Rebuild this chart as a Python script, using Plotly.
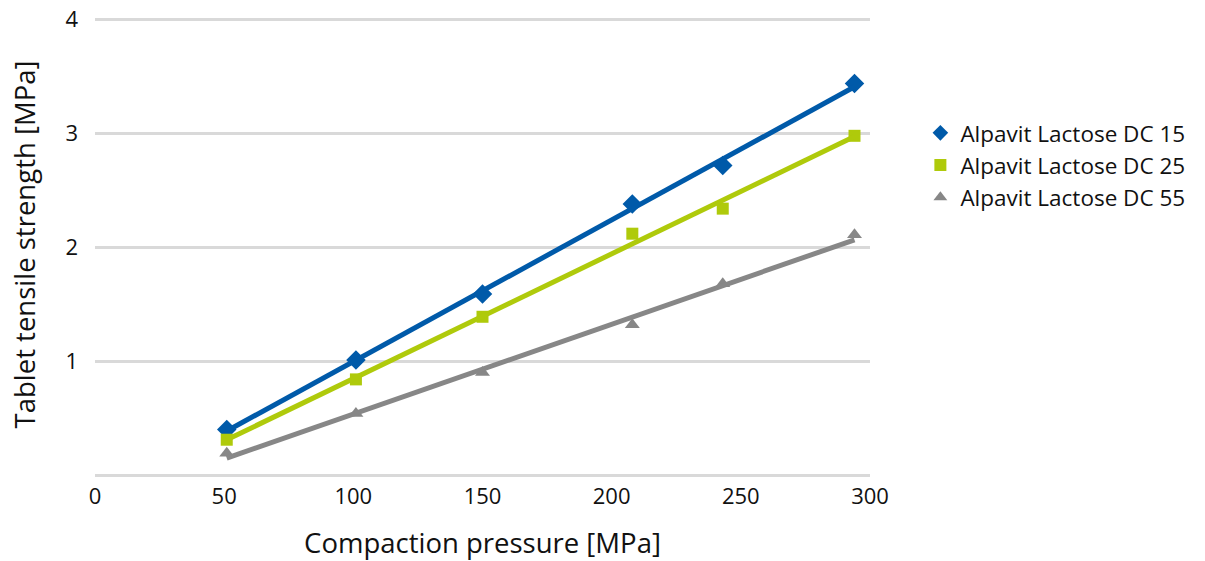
import numpy as np
import plotly.graph_objects as go

pressure = [51, 101, 150, 208, 243, 294]
dc15 = [0.40, 1.01, 1.59, 2.38, 2.72, 3.44]
dc25 = [0.31, 0.84, 1.39, 2.12, 2.34, 2.98]
dc55 = [0.19, 0.54, 0.90, 1.32, 1.68, 2.11]

series = [
    ("Alpavit Lactose DC 15", dc15, "#005aa9", "diamond", 15),
    ("Alpavit Lactose DC 25", dc25, "#afca0b", "square", 12),
    ("Alpavit Lactose DC 55", dc55, "#878787", "triangle-up", 13),
]

fig = go.Figure()
for name, ys, color, sym, size in series:
    fig.add_trace(go.Scatter(x=pressure, y=ys, mode="markers", name=name,
                             marker=dict(symbol=sym, color=color, size=size, line=dict(width=0))))
for name, ys, color, sym, size in series:
    k, d = np.polyfit(pressure, ys, 1)
    xs = [pressure[0], pressure[-1]]
    fig.add_trace(go.Scatter(x=xs, y=[k * x + d for x in xs], mode="lines", showlegend=False,
                             line=dict(color=color, width=5), hoverinfo="skip"))

fig.update_layout(
    width=1205, height=561,
    margin=dict(l=95, r=335, t=14, b=86),
    paper_bgcolor="white", plot_bgcolor="white",
    font=dict(family="Open Sans", color="#111111", size=22),
    xaxis=dict(range=[0, 300], tickvals=[0, 50, 100, 150, 200, 250, 300], showgrid=False,
               zeroline=False, showline=False, ticks="", automargin=False, ticklabelstandoff=6,
               title=dict(text="Compaction pressure [MPa]", font=dict(size=27.5), standoff=34)),
    yaxis=dict(range=[0, 4.05], tickvals=[1, 2, 3, 4], showgrid=True, gridcolor="#d9d9d9", gridwidth=2.5,
               zeroline=True, zerolinecolor="#d9d9d9", zerolinewidth=2.5, showline=False, ticks="",
               automargin=False, ticklabelstandoff=16, ticklabeloverflow="allow",
               title=dict(text="Tablet tensile strength [MPa]", font=dict(size=27.5), standoff=21)),
    legend=dict(x=1.065, y=0.672, xanchor="left", yanchor="middle", font=dict(size=22.5),
                itemsizing="constant", tracegroupgap=0),
)
fig.write_html("out.html", config={"displayModeBar": False},
               post_script="document.body.style.margin='0px';")
